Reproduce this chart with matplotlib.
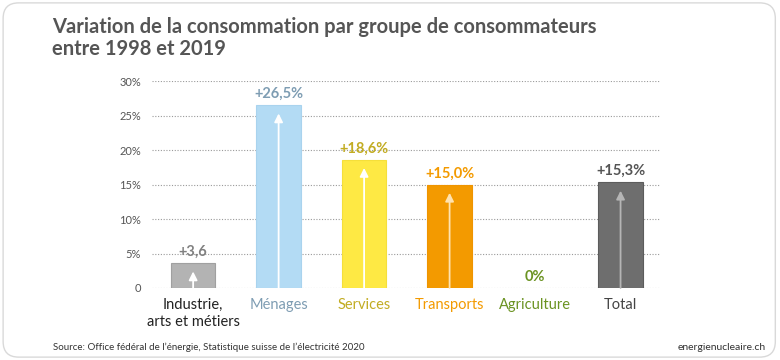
import matplotlib
matplotlib.use("Agg")
import matplotlib.pyplot as plt
from matplotlib.patches import FancyBboxPatch

# data
categories = ["Industrie,\narts et métiers", "Ménages", "Services", "Transports", "Agriculture", "Total"]
values = [3.6, 26.5, 18.6, 15.0, 0.0, 15.3]
value_labels = ["+3,6", "+26,5%", "+18,6%", "+15,0%", "0%", "+15,3%"]
yticks = [0, 5, 10, 15, 20, 25, 30]
ytick_labels = ["0", "5%", "10%", "15%", "20%", "25%", "30%"]

bar_colors = ["#b3b3b3", "#b3dbf4", "#fee944", "#f39a00", "#6b9a22", "#6e6e6e"]
edge_colors = ["#a0a0a0", "#a9d3ee", "#f5df3a", "#ef9400", "#6b9a22", "#5c5c5c"]
value_colors = ["#808080", "#7e9db3", "#c2ac22", "#f39a00", "#6b9322", "#555555"]
tick_colors = ["#222222", "#7e9db3", "#c2ac22", "#f39a00", "#6b9322", "#444444"]
arrow_colors = ["white", "white", "white", "#ffe3b0", "white", "#b5b5b5"]

plt.rcParams["font.family"] = ["Lato", "DejaVu Sans"]

fig = plt.figure(figsize=(7.8, 3.6), dpi=100)
fig.patch.set_facecolor("white")

# rounded frame around the whole card
frame = FancyBboxPatch((0.004, 0.008), 0.99, 0.984, boxstyle="round,pad=0,rounding_size=0.02",
                       transform=fig.transFigure, facecolor="none", edgecolor="#d9d9d9",
                       linewidth=1.0, mutation_aspect=780 / 360, zorder=-1)
fig.patches.append(frame)

ax = fig.add_axes([0.195, 0.2, 0.651, 0.575])
ax.set_xlim(-0.48, 5.46)
ax.set_ylim(0, 30)
ax.patch.set_alpha(0)

for y in yticks:
    ax.axhline(y, color="#9a9a9a", linestyle=(0, (1, 1.5)), linewidth=0.8, zorder=0)

x = list(range(len(categories)))
for i, v in enumerate(values):
    if v > 0:
        ax.bar(i, v, width=0.52, color=bar_colors[i], edgecolor=edge_colors[i],
               linewidth=0.8, zorder=2)
        ax.annotate("", xy=(i, v - 1.2), xytext=(i, 0),
                    arrowprops=dict(arrowstyle="-|>,head_length=0.5,head_width=0.25",
                                    color=arrow_colors[i], lw=1.3, shrinkA=0, shrinkB=0),
                    zorder=3)
    ax.text(i, v + 0.6, value_labels[i], ha="center", va="bottom", fontsize=10.5,
            fontweight="bold", color=value_colors[i], zorder=4)

ax.set_xticks(x)
ax.set_xticklabels(categories, fontsize=10.5, linespacing=1.3)
for lbl, c in zip(ax.get_xticklabels(), tick_colors):
    lbl.set_color(c)
ax.set_yticks(yticks)
ax.set_yticklabels(ytick_labels, fontsize=8, color="#555555")
ax.tick_params(length=0, pad=8)
ax.tick_params(axis="x", pad=7)
for s in ax.spines.values():
    s.set_visible(False)

fig.text(0.067, 0.953, "Variation de la consommation par groupe de consommateurs\nentre 1998 et 2019",
         fontsize=14.5, fontweight="bold", color="#555555", va="top", linespacing=1.15)
fig.text(0.068, 0.036, "Source: Office fédéral de l’énergie, Statistique suisse de l’électricité 2020",
         fontsize=7, color="#333333", va="center")
fig.text(0.982, 0.036, "energienucleaire.ch", fontsize=7.5, color="#333333", va="center", ha="right")

fig.savefig("out.png", dpi=100, facecolor="white")
